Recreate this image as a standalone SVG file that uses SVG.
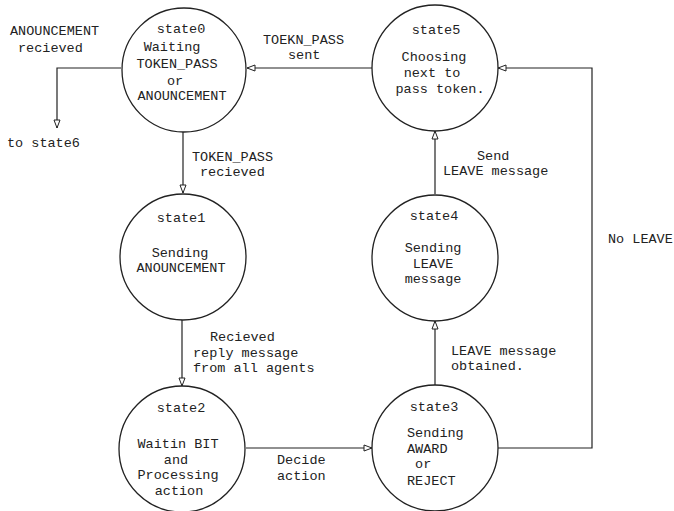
<svg xmlns="http://www.w3.org/2000/svg" width="674" height="511" viewBox="0 0 674 511">
<defs>
<style>
.node circle{fill:none;stroke:#222;stroke-width:1.3}
text{font-family:"Liberation Mono","Courier New",monospace;font-size:13.5px;fill:#222}
.c{text-anchor:middle}
.edge{fill:none;stroke:#222;stroke-width:1.2}
</style>
<marker id="arr" markerUnits="userSpaceOnUse" markerWidth="10" markerHeight="8" viewBox="0 0 10 8" refX="9" refY="4" orient="auto">
<path d="M1,1 L9,4 L1,7 Z" fill="#fff" stroke="#222" stroke-width="1"/>
</marker>
</defs>
<rect width="674" height="511" fill="#fff"/>
<g id="connectors">
<path class="edge" d="M121,68 H57 V128" marker-end="url(#arr)"/>
<path class="edge" d="M183,132 V193" marker-end="url(#arr)"/>
<path class="edge" d="M182,320 V386" marker-end="url(#arr)"/>
<path class="edge" d="M246,448 H372" marker-end="url(#arr)"/>
<path class="edge" d="M435,385 V321" marker-end="url(#arr)"/>
<path class="edge" d="M435,194 V131" marker-end="url(#arr)"/>
<path class="edge" d="M498,448 H592 V68 H498" marker-end="url(#arr)"/>
<path class="edge" d="M372,68 H247" marker-end="url(#arr)"/>
<text x="10" y="35">ANOUNCEMENT</text>
<text x="18" y="52">recieved</text>
<text x="7" y="147">to state6</text>
<text x="192" y="161">TOKEN_PASS</text>
<text x="200" y="176">recieved</text>
<text x="263" y="44">TOEKN_PASS</text>
<text x="288" y="59">sent</text>
<text x="210" y="341">Recieved</text>
<text x="193" y="357">reply message</text>
<text x="193" y="372">from all agents</text>
<text x="277" y="464">Decide</text>
<text x="277" y="480">action</text>
<text x="451" y="355">LEAVE message</text>
<text x="451" y="370">obtained.</text>
<text x="477" y="160">Send</text>
<text x="443" y="175">LEAVE message</text>
<text x="608" y="243">No LEAVE</text>
</g>
<g id="state0" class="node">
<circle cx="184" cy="70" r="62"/>
<text class="c" x="181" y="33">state0</text>
<text class="c" x="172" y="51">Waiting</text>
<text class="c" x="177" y="68">TOKEN_PASS</text>
<text class="c" x="175" y="85">or</text>
<text class="c" x="182" y="100">ANOUNCEMENT</text>
</g>
<g id="state1" class="node">
<circle cx="183" cy="257" r="63"/>
<text class="c" x="181" y="222">state1</text>
<text class="c" x="180" y="257">Sending</text>
<text class="c" x="181" y="272">ANOUNCEMENT</text>
</g>
<g id="state2" class="node">
<circle cx="182" cy="449" r="63"/>
<text class="c" x="181" y="412">state2</text>
<text class="c" x="178" y="448">Waitin BIT</text>
<text class="c" x="176" y="464">and</text>
<text class="c" x="178" y="479">Processing</text>
<text class="c" x="179" y="495">action</text>
</g>
<g id="state3" class="node">
<circle cx="435" cy="448" r="63"/>
<text class="c" x="434" y="411">state3</text>
<text x="407" y="437">Sending</text>
<text x="407" y="453">AWARD</text>
<text x="407" y="468" xml:space="preserve"> or</text>
<text x="407" y="485">REJECT</text>
</g>
<g id="state4" class="node">
<circle cx="435" cy="258" r="63"/>
<text class="c" x="434" y="220">state4</text>
<text class="c" x="433" y="252">Sending</text>
<text class="c" x="433" y="268">LEAVE</text>
<text class="c" x="433" y="283">message</text>
</g>
<g id="state5" class="node">
<circle cx="435" cy="68" r="63"/>
<text class="c" x="436" y="34">state5</text>
<text class="c" x="434" y="61">Choosing</text>
<text class="c" x="432" y="77">next to</text>
<text class="c" x="440" y="93">pass token.</text>
</g>
</svg>
